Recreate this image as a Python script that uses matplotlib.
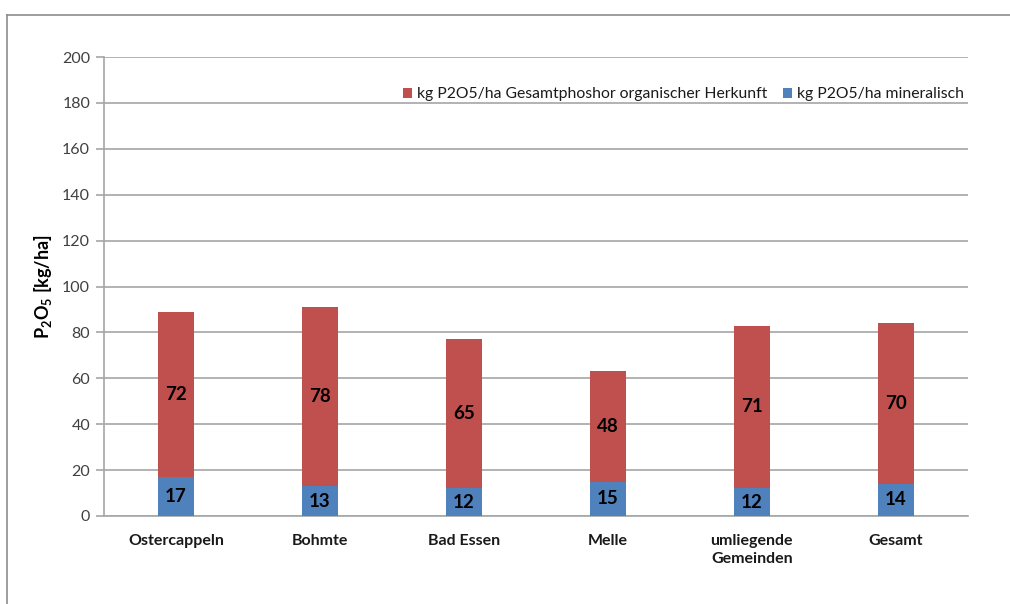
import matplotlib.pyplot as plt
import numpy as np

plt.rcParams['font.family'] = ['Lato', 'DejaVu Sans']
plt.rcParams['mathtext.fontset'] = 'custom'
plt.rcParams['mathtext.rm'] = 'Lato'
plt.rcParams['mathtext.bf'] = 'Lato:bold'

gemeinden = ['Ostercappeln', 'Bohmte', 'Bad Essen', 'Melle', 'umliegende\nGemeinden', 'Gesamt']
mineralisch = [17, 13, 12, 15, 12, 14]
organisch = [72, 78, 65, 48, 71, 70]

rot = '#C0504D'
blau = '#4F81BD'
grid_col = '#A6A6A6'

fig = plt.figure(figsize=(10.10, 6.04), dpi=100)
ax = fig.add_axes([0.103, 0.1457, 0.855, 0.7599])

x = np.arange(len(gemeinden))
b1 = ax.bar(x, mineralisch, width=0.25, color=blau, label='kg P2O5/ha mineralisch', zorder=3)
b2 = ax.bar(x, organisch, width=0.25, bottom=mineralisch, color=rot,
            label='kg P2O5/ha Gesamtphoshor organischer Herkunft', zorder=3)

for i in range(len(gemeinden)):
    ax.text(x[i], mineralisch[i] / 2, str(mineralisch[i]), ha='center', va='center',
            fontsize=13.5, fontweight='bold', color='black', zorder=4)
    ax.text(x[i], mineralisch[i] + organisch[i] / 2, str(organisch[i]), ha='center', va='center',
            fontsize=13.5, fontweight='bold', color='black', zorder=4)

ax.set_xlim(-0.5, len(gemeinden) - 0.5)
ax.set_ylim(0, 200)
ax.set_yticks(np.arange(0, 201, 20))
ax.yaxis.grid(True, color=grid_col, linewidth=1.2, zorder=0)
ax.set_axisbelow(True)

for s in ['top', 'right']:
    ax.spines[s].set_visible(False)
ax.spines['left'].set_color(grid_col)
ax.spines['bottom'].set_color(grid_col)
ax.spines['left'].set_linewidth(1.2)
ax.spines['bottom'].set_linewidth(1.2)

ax.tick_params(axis='y', length=6, color=grid_col, width=1.2, labelsize=11.5,
               labelcolor='#404040', pad=4)
ax.tick_params(axis='x', length=0, pad=13)
ax.set_xticks(x)
ax.set_xticklabels(gemeinden, fontsize=11.5, fontweight='bold', color='#1a1a1a',
                   linespacing=1.4, va='top')

ax.set_ylabel(r'$\mathbf{P_2O_5}$ [kg/ha]', fontsize=13, fontweight='bold', labelpad=6)

ax.legend(handles=[b2, b1], loc='upper right', bbox_to_anchor=(1.012, 0.965), ncol=2,
          frameon=False, fontsize=11.3, handlelength=0.6, handleheight=0.6,
          handletextpad=0.3, columnspacing=1.0, labelcolor='#1a1a1a')

# outer chart frame, top and left edges
fig.add_artist(plt.Line2D([0.0069, 1.0], [0.975, 0.975], color='#8C8C8C', linewidth=1.2))
fig.add_artist(plt.Line2D([0.0069, 0.0069], [0.0, 0.975], color='#8C8C8C', linewidth=1.2))

fig.savefig('out.png', dpi=100)
